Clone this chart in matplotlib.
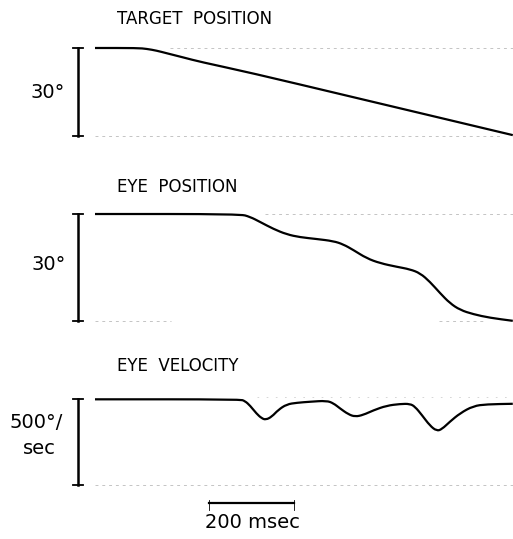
import matplotlib
matplotlib.use("Agg")
import matplotlib.pyplot as plt
from matplotlib.path import Path
from matplotlib.patches import PathPatch

# ---- data (time in ms, position in degrees, velocity in deg/s) ----
target_t = [0, 100, 122, 145, 169, 210, 247, 365, 600, 983]
target_pos = [30, 30, 29.7, 29.1, 28.2, 26.7, 25.3, 21.6, 13.5, 0.3]

eye_t = [0, 341, 365, 388, 420, 451, 482, 521, 561, 584, 608, 639, 671, 710,
         741, 765, 788, 812, 835, 859, 890, 929, 983]
eye_pos = [30, 30, 29.2, 27.8, 25.8, 24.3, 23.5, 23.0, 22.4, 21.5, 19.9, 17.6,
           16.2, 15.2, 14.5, 13.4, 11.0, 7.8, 5.0, 3.1, 1.9, 0.9, 0.05]

vel_t = [0, 341, 353, 365, 380, 392, 402, 416, 431, 451, 475, 506, 545, 561,
         576, 596, 612, 631, 655, 686, 718, 741, 753, 769, 788, 804, 816, 835,
         859, 890, 921, 983]
vel = [0, 0, -10, -37, -83, -110, -119, -101, -62, -29, -20, -14, -8, -23,
       -52, -87, -101, -91, -64, -37, -27, -26, -43, -91, -153, -184, -174,
       -130, -81, -39, -29, -26]

titles = ["TARGET  POSITION", "EYE  POSITION", "EYE  VELOCITY"]
scale_labels = ["30\u00b0", "30\u00b0", "500\u00b0/", "sec"]
time_bar_label = "200 msec"
time_bar_ms = [268, 468]

W, H = 513, 539
fig = plt.figure(figsize=(W / 100, H / 100), dpi=100)

XL = (-223.5, 983.5)

def add_ax(top_px, bot_px, ylim):
    ax = fig.add_axes([0, 1 - bot_px / H, 1, (bot_px - top_px) / H])
    ax.set_xlim(*XL)
    ax.set_ylim(*ylim)
    ax.axis("off")
    return ax

ax1 = add_ax(0, 170, (-11.59, 46.36))
ax2 = add_ax(170, 345, (-6.73, 42.34))
ax3 = add_ax(345, 539, (-812.1, 315.8))

def smooth_curve(ax, xs, ys, lw=1.6):
    """Draw a polyline with rounded corners (quadratic Bezier through midpoints)."""
    pts = list(zip(xs, ys))
    verts = [pts[0]]
    codes = [Path.MOVETO]
    for i in range(1, len(pts) - 1):
        mx0 = ((pts[i - 1][0] + pts[i][0]) / 2, (pts[i - 1][1] + pts[i][1]) / 2)
        mx1 = ((pts[i][0] + pts[i + 1][0]) / 2, (pts[i][1] + pts[i + 1][1]) / 2)
        if i == 1:
            verts.append(mx0); codes.append(Path.LINETO)
        verts += [pts[i], mx1]
        codes += [Path.CURVE3, Path.CURVE3]
    verts.append(pts[-1]); codes.append(Path.LINETO)
    ax.add_patch(PathPatch(Path(verts, codes), fill=False, edgecolor="black",
                           lw=lw, capstyle="butt", joinstyle="round"))

faint = dict(color="#c4c4c4", lw=0.7, ls=(0, (3, 4)))

# Panel 1
ax1.plot([176, 983], [30, 30], **faint)
ax1.plot([0, 960], [0, 0], **faint)
smooth_curve(ax1, target_t, target_pos)

# Panel 2
ax2.plot([400, 983], [30, 30], **faint)
ax2.plot([0, 180], [0, 0], **faint)
ax2.plot([810, 920], [0, 0], **faint)
smooth_curve(ax2, eye_t, eye_pos)

# Panel 3
ax3.plot([0, 983], [-500, -500], **faint)
ax3.plot([380, 983], [14, 14], color="#d0d0d0", lw=0.6, ls=(0, (2, 9)))
smooth_curve(ax3, vel_t, vel)

# vertical scale bars
xb, xc0, xc1 = -40, -52, -28
for ax, (lo, hi) in [(ax1, (0, 30)), (ax2, (0, 30)), (ax3, (-500, 0))]:
    ax.plot([xb, xb], [lo, hi], color="black", lw=1.8)
    ax.plot([xc0, xc1], [lo, lo], color="black", lw=1.3)
    ax.plot([xc0, xc1], [hi, hi], color="black", lw=1.3)

# time scale bar
ybar = -604.7
ax3.plot(time_bar_ms, [ybar, ybar], color="black", lw=1.6)
for xm in time_bar_ms:
    ax3.plot([xm, xm], [ybar + 20, ybar - 40], color="black", lw=0.6)

def ftext(xpx, ypx, s, **kw):
    fig.text(xpx / W, 1 - ypx / H, s, **kw)

fam = "DejaVu Sans"
for ypx, t in zip([18.5, 187, 366], titles):
    ftext(117, ypx, t, fontsize=12, family=fam, va="center", ha="left")

ftext(48, 92, scale_labels[0], fontsize=14, family=fam, va="center", ha="center")
ftext(49, 264, scale_labels[1], fontsize=14, family=fam, va="center", ha="center")
ftext(36, 423, scale_labels[2], fontsize=14, family=fam, va="center", ha="center")
ftext(39, 449, scale_labels[3], fontsize=14, family=fam, va="center", ha="center")

ftext(252, 523, time_bar_label, fontsize=14, family=fam, va="center", ha="center")

fig.savefig("out.png", dpi=100, facecolor="white")
